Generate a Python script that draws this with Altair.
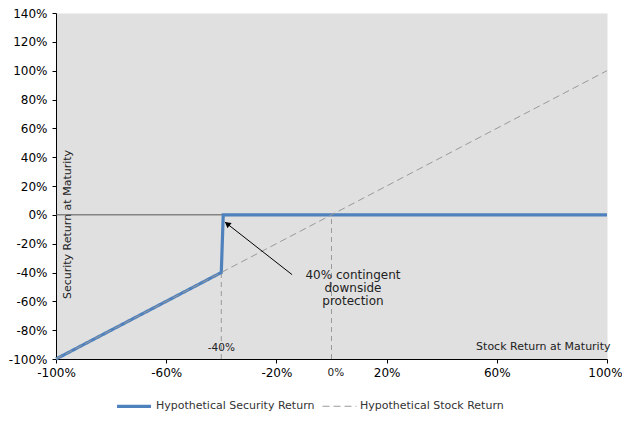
import altair as alt
import pandas as pd
import math

# ---- data ----
series_names = ["Hypothetical Security Return", "Hypothetical Stock Return"]
sec_x = [-1.0, -0.4, -0.393, 1.0]
sec_y = [-1.0, -0.4, 0.0, 0.0]
stock_x = [-1.0, 1.0]
stock_y = [-1.0, 1.0]

x_ticks = [-1.0, -0.6, -0.2, 0.2, 0.6, 1.0]
y_ticks = [-1.0, -0.8, -0.6, -0.4, -0.2, 0.0, 0.2, 0.4, 0.6, 0.8, 1.0, 1.2, 1.4]

ref_x = [-0.4, 0.0]
ref_top = [-0.4, 0.0]
ref_bottom = [-1.0, -1.0]

zero_x = [-1.0]
zero_x2 = [1.0]
zero_y = [0.0]

arrow_tail = (-0.143, -0.415)
arrow_head = (-0.387, -0.05)

note_text = "40% contingent\ndownside\nprotection"
note_pos = (0.078, -0.419)

lbl_texts = ["-40%", "0%"]
lbl_x = [-0.4, 0.016]
lbl_y = [-0.924, -1.097]

font = "DejaVu Sans"
blue = "#4f81bd"
grey = "#9a9a9a"

W, H = 551, 346

lines = pd.DataFrame(
    {"x": sec_x + stock_x,
     "y": sec_y + stock_y,
     "series": [series_names[0]] * len(sec_x) + [series_names[1]] * len(stock_x),
     "order": list(range(len(sec_x))) + list(range(len(stock_x)))}
)

xs = alt.Scale(domain=[-1, 1], nice=False, zero=False)
ys = alt.Scale(domain=[-1, 1.4], nice=False, zero=False)

pct_expr = "replace(format(datum.value, '.0%'), '\u2212', '-')"

X = alt.X("x:Q", scale=xs,
          axis=alt.Axis(values=x_ticks, labelExpr=pct_expr, title="Stock Return at Maturity",
                        titleX=554, titleY=-8, titleAlign="right", titleBaseline="bottom",
                        titleFontWeight="normal", titleFontSize=11, titleFont=font,
                        tickSize=4, labelPadding=4, labelFlush=False,
                        labelOffset={"condition": {"test": "datum.value == 1", "value": -2}, "value": 0}))
Y = alt.Y("y:Q", scale=ys,
          axis=alt.Axis(values=y_ticks, labelExpr=pct_expr, title="Security Return at Maturity",
                        titleAngle=270, titleX=11, titleY=211, titleAlign="center",
                        titleBaseline="middle", titleFontWeight="normal", titleFontSize=11,
                        titleFont=font, tickSize=4, labelPadding=5))

zero_df = pd.DataFrame({"x": zero_x, "x2": zero_x2, "y": zero_y})
zero_line = alt.Chart(zero_df).mark_rule(color="#555555", strokeWidth=1).encode(
    x=X, x2="x2:Q", y=Y)

ref_df = pd.DataFrame({"x": ref_x, "y": ref_bottom, "y2": ref_top})
ref_lines = alt.Chart(ref_df).mark_rule(color=grey, strokeWidth=1, strokeDash=[5, 4]).encode(
    x=X, y=Y, y2="y2:Q")

leg = alt.Legend(title=None, orient="none", direction="horizontal",
                 legendX=59, legendY=374, symbolType="stroke",
                 symbolSize=1150, labelFont=font, labelFontSize=11,
                 labelColor="#333333", columnPadding=5, labelOffset=3)

line_chart = alt.Chart(lines).mark_line(strokeCap="butt").encode(
    x=X, y=Y, order="order:Q",
    color=alt.Color("series:N", scale=alt.Scale(domain=series_names, range=[blue, grey]), legend=leg),
    strokeDash=alt.StrokeDash("series:N", scale=alt.Scale(domain=series_names, range=[[1, 0], [7, 4]]),
                              legend=leg),
    strokeWidth=alt.StrokeWidth("series:N", scale=alt.Scale(domain=series_names, range=[3.2, 1]),
                                legend=leg),
)

arrow_df = pd.DataFrame({"x": [arrow_tail[0]], "y": [arrow_tail[1]],
                         "x2": [arrow_head[0]], "y2": [arrow_head[1]]})
arrow_line = alt.Chart(arrow_df).mark_rule(color="black", strokeWidth=1).encode(
    x=X, y=Y, x2="x2:Q", y2="y2:Q")

# arrow head orientation derived from the arrow's own data
px_per_x = W / 2.0
px_per_y = H / 2.4
dxp = (arrow_head[0] - arrow_tail[0]) * px_per_x
dyp = -(arrow_head[1] - arrow_tail[1]) * px_per_y
ang = (math.degrees(math.atan2(dxp, -dyp)) + 360) % 360
L = math.hypot(dxp, dyp)
back = 3.0
hx = arrow_head[0] - dxp / L * back / px_per_x
hy = arrow_head[1] + dyp / L * back / px_per_y
head_df = pd.DataFrame({"x": [hx], "y": [hy]})
arrow_head_mark = alt.Chart(head_df).mark_point(shape="triangle-up", filled=True, color="black",
                                                size=45, angle=ang, opacity=1).encode(x=X, y=Y)

note_df = pd.DataFrame({"x": [note_pos[0]], "y": [note_pos[1]], "t": [note_text]})
note = alt.Chart(note_df).mark_text(font=font, fontSize=12, lineBreak="\n", lineHeight=13,
                                    align="center", baseline="middle", color="#222222").encode(
    x=X, y=Y, text="t:N")

lbl_df = pd.DataFrame({"x": lbl_x, "y": lbl_y, "t": lbl_texts})
lbls = alt.Chart(lbl_df).mark_text(font=font, fontSize=10.5, align="center", baseline="middle",
                                   color="#222222").encode(x=X, y=Y, text="t:N")

chart = alt.layer(zero_line, ref_lines, line_chart, arrow_line, arrow_head_mark, note, lbls).properties(
    width=W, height=H,
    autosize=alt.AutoSizeParams(type="none"),
    padding={"left": 48, "top": 5, "right": 15, "bottom": 54},
    background="white",
).configure_view(fill="#e0e0e0", stroke="transparent").configure_axis(
    grid=False, domainColor="black", tickColor="black", labelColor="black",
    labelFont=font, labelFontSize=12, titleColor="#222222", domainWidth=1
)

chart.save("out.html", embed_options={"renderer": "svg", "actions": False})
